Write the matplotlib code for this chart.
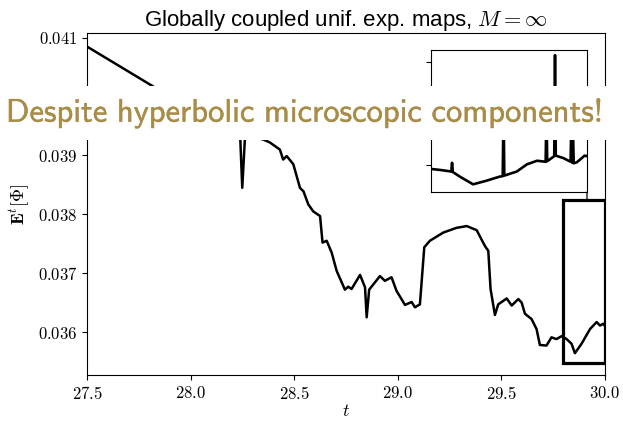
import matplotlib
matplotlib.use("Agg")
import matplotlib.pyplot as plt
import matplotlib.patheffects as pe
from matplotlib.patches import Rectangle, ConnectionPatch
from matplotlib.transforms import blended_transform_factory

plt.rcParams["mathtext.fontset"] = "cm"
plt.rcParams["font.family"] = ["Liberation Sans", "DejaVu Sans"]

# main time series
t_main = [27.5, 28.24, 28.2495, 28.2625, 28.295, 28.351, 28.383, 28.431, 28.447, 28.464,
          28.496, 28.528, 28.545, 28.568, 28.592, 28.625, 28.637, 28.657, 28.681, 28.705,
          28.745, 28.761, 28.777, 28.818, 28.842, 28.850, 28.862, 28.914, 28.938, 28.970,
          28.994, 29.035, 29.067, 29.083, 29.107, 29.128, 29.155, 29.220, 29.284, 29.333,
          29.381, 29.421, 29.437, 29.448, 29.469, 29.485, 29.526, 29.550, 29.582, 29.598,
          29.614, 29.646, 29.670, 29.686, 29.718, 29.742, 29.766, 29.791, 29.815, 29.839,
          29.855, 29.887, 29.928, 29.960, 29.976, 29.992, 30.0]
e_main = [0.04085, 0.03928, 0.03845, 0.0393, 0.03932, 0.03927, 0.03922, 0.0391, 0.03893, 0.03899,
          0.03885, 0.03845, 0.03839, 0.03817, 0.03805, 0.03797, 0.03752, 0.03755, 0.03735, 0.03704,
          0.03672, 0.03677, 0.03673, 0.03697, 0.03676, 0.03625, 0.03672, 0.03695, 0.03687, 0.03693,
          0.0367, 0.03646, 0.03651, 0.03642, 0.03647, 0.03744, 0.03755, 0.03769, 0.03777, 0.0378,
          0.03773, 0.03746, 0.03738, 0.03673, 0.03629, 0.03647, 0.03657, 0.03645, 0.03656, 0.0365,
          0.03631, 0.03622, 0.03605, 0.03578, 0.03577, 0.03591, 0.03588, 0.03593, 0.03588, 0.0358,
          0.03564, 0.0358, 0.03605, 0.03617, 0.03611, 0.03614, 0.0361]

# zoomed, higher resolution data for the inset
t_zoom = [29.800, 29.812, 29.826, 29.827, 29.828, 29.837, 29.854, 29.871, 29.888, 29.892,
          29.893, 29.894, 29.910, 29.923, 29.936, 29.947, 29.948, 29.949, 29.958, 29.959,
          29.960, 29.970, 29.979, 29.980, 29.981, 29.982, 29.983, 29.987, 29.997, 30.0]
e_zoom = [0.03592, 0.03590, 0.03587, 0.03604, 0.03586, 0.03577, 0.03562, 0.03569, 0.03577, 0.03578,
          0.03720, 0.03579, 0.03587, 0.03601, 0.03608, 0.03606, 0.03710, 0.03607, 0.03617, 0.03814,
          0.03618, 0.03613, 0.03606, 0.03690, 0.03604, 0.03670, 0.03603, 0.03605, 0.03618, 0.03617]

x_ticks = [27.5, 28.0, 28.5, 29.0, 29.5, 30.0]
y_ticks = [0.036, 0.037, 0.038, 0.039, 0.041]
zoom_box = (29.8, 30.0, 0.03547, 0.03824)

fig = plt.figure(figsize=(6.23, 4.21), dpi=100)
ax = fig.add_axes([0.1396, 0.1093, 0.8314, 0.8123])

ax.plot(t_main, e_main, color="black", lw=1.8)
ax.set_xlim(27.5, 30.0)
ax.set_ylim(0.03527, 0.04108)
ax.set_xticks(x_ticks)
ax.set_xticklabels([f"${v:.1f}$" for v in x_ticks], fontsize=12)
ax.set_yticks(y_ticks)
ax.set_yticklabels([f"${v:.3f}$" for v in y_ticks], fontsize=12)
ax.set_xlabel("$t$", fontsize=13, labelpad=1)
ax.set_ylabel(r"$\mathbf{E}^t[\Phi]$", fontsize=13)
ax.set_title(r"Globally coupled unif. exp. maps, $M=\infty$", fontsize=16, pad=4)

x0, x1, y0, y1 = zoom_box
ax.add_patch(Rectangle((x0, y0), x1 - x0, y1 - y0, fill=False, ec="black", lw=2.3, zorder=5))

axins = fig.add_axes([0.6918, 0.5439, 0.2504, 0.3373])
axins.plot(t_zoom, e_zoom, color="black", lw=1.9)
axins.set_xlim(x0, x1)
axins.set_ylim(y0, y1)
axins.set_xticks([])
axins.set_yticks([0.036, 0.038])
axins.set_yticklabels([])

con = ConnectionPatch(xyA=(1, 0), coordsA=axins.transAxes,
                      xyB=(1, y1), coordsB=blended_transform_factory(axins.transAxes, ax.transData),
                      color="black", lw=0.9)
fig.add_artist(con)

fig.text(0.488, 0.732, r"$\mathsf{Despite\ hyperbolic\ microscopic\ components!}$",
         ha="center", va="center", fontsize=23.5, color="#a88c48",
         path_effects=[pe.withStroke(linewidth=0.25, foreground="#a88c48")],
         bbox=dict(boxstyle="square,pad=0.3", fc="white", ec="none"))

fig.savefig("out.png", dpi=100)
